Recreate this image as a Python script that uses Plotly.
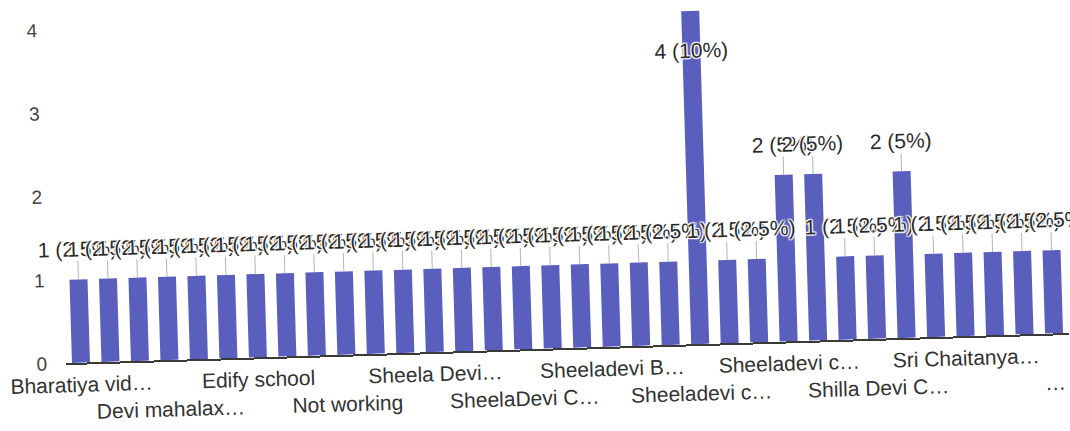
import plotly.graph_objects as go

# Responses per school (one bar per distinct answer, in the order listed)
counts = [1] * 21 + [4] + [1, 1] + [2, 2] + [1, 1] + [2] + [1] * 5
bar_index = list(range(len(counts)))

# Only every third category gets a tick label; they alternate between two rows
label_every = 3
tick_labels = [
    "Bharatiya vid…", "Devi mahalax…", "Edify school", "Not working",
    "Sheela Devi…", "SheelaDevi C…", "Sheeladevi B…", "Sheeladevi c…",
    "Sheeladevi c…", "Shilla Devi C…", "Sri Chaitanya…", "…",
]
y_ticks = [0, 1, 2, 3, 4]

total = sum(counts)
y_max = max(y_ticks)
stem = 0.22          # length of the leader line above each bar
label_gap = 0.34     # distance from the bar top to the label centre
inside_gap = 0.5     # label drop when there is no room above the bar

value_text = [f"{c} ({c / total * 100:g}%)" for c in counts]
fits_above = [c + label_gap <= y_max for c in counts]
label_y = [c + label_gap if ok else c - inside_gap for c, ok in zip(counts, fits_above)]
stems = [stem if ok else 0 for ok in fits_above]

tick_vals = bar_index[::label_every]
tick_text = [t if i % 2 == 0 else "\u00a0<br>" + t for i, t in enumerate(tick_labels)]

halo = ("-1px -1px 1px #fff, 1px -1px 1px #fff, -1px 1px 1px #fff, "
        "1px 1px 1px #fff, 0 0 2px #fff")

fig = go.Figure()
fig.add_trace(go.Bar(
    x=bar_index,
    y=counts,
    marker=dict(color="#5a5ebd", line=dict(width=0)),
    error_y=dict(type="data", symmetric=False, array=stems,
                 arrayminus=[0] * len(counts), width=0,
                 thickness=1, color="#b5b5b5"),
    hoverinfo="skip",
))
fig.add_trace(go.Scatter(
    x=bar_index,
    y=label_y,
    mode="text",
    text=value_text,
    textposition="middle center",
    textfont=dict(family="Liberation Sans, Arial, sans-serif", size=21,
                  color="#2a2a2a", shadow=halo),
    cliponaxis=False,
    hoverinfo="skip",
))

fig.update_layout(
    width=1070,
    height=431,
    margin=dict(l=62, r=5, t=9, b=82),
    paper_bgcolor="white",
    plot_bgcolor="white",
    showlegend=False,
    bargap=0.39,
    font=dict(family="Liberation Sans, Arial, sans-serif", color="#333"),
    xaxis=dict(
        range=[-0.5, len(counts) - 0.5],
        tickmode="array",
        tickvals=tick_vals,
        ticktext=tick_text,
        tickangle=0,
        tickfont=dict(size=21, color="#333"),
        ticklabelstandoff=2,
        showgrid=False,
        zeroline=False,
        showline=True,
        linecolor="#3a3a3a",
        linewidth=2,
        ticks="",
    ),
    yaxis=dict(
        range=[0, y_max * 1.002],
        tickmode="array",
        tickvals=y_ticks,
        tickfont=dict(size=19, color="#444"),
        ticklabelstandoff=18,
        ticklabeloverflow="allow",
        showgrid=False,
        zeroline=False,
        showline=False,
        ticks="",
    ),
)

# The page shows the chart tilted slightly, right side raised
tilt = ("var gd = document.getElementById('{plot_id}');"
        "gd.style.transformOrigin = '535px 215px';"
        "gd.style.transform = 'rotate(-1.72deg)';")

fig.write_html("out.html", post_script=tilt)
